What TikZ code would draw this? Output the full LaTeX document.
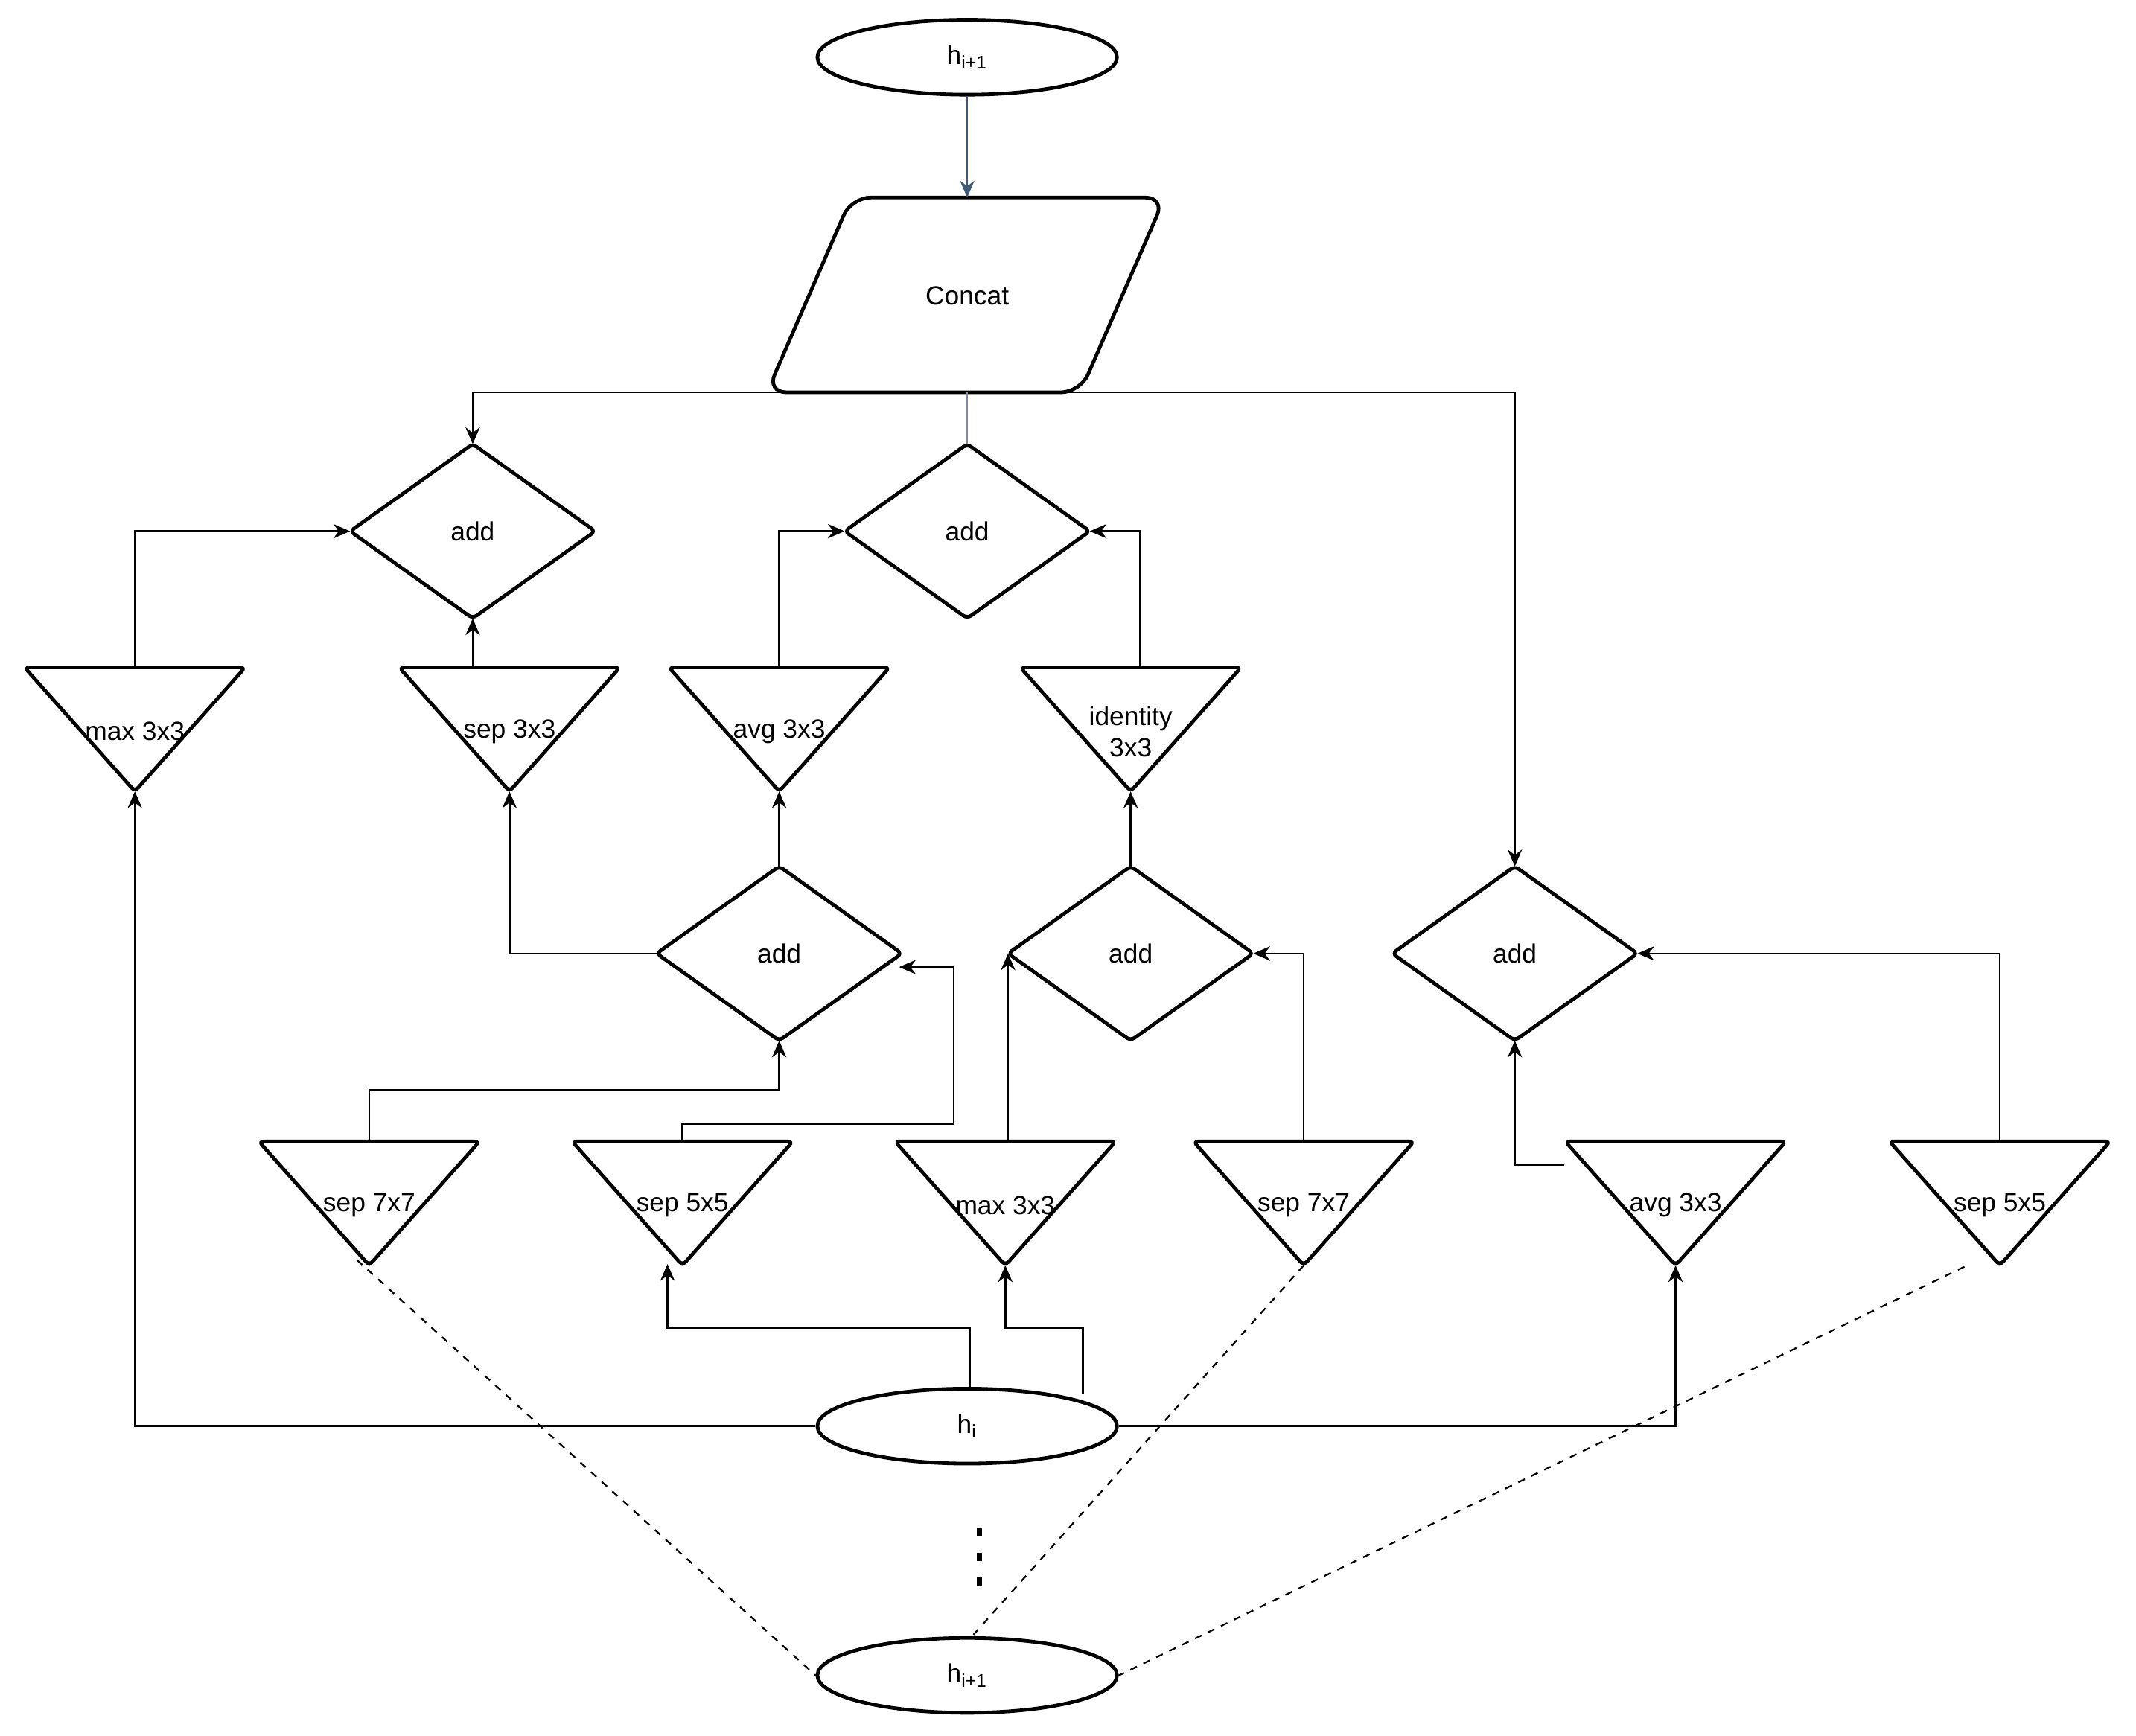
\documentclass[tikz,border=0pt]{standalone}
\usepackage{fontspec}
\setmainfont{Liberation Sans}
\usetikzlibrary{arrows.meta,shapes.geometric}
\definecolor{steel}{HTML}{3E5A78}
\begin{document}
\begin{tikzpicture}[x=0.02cm,y=-0.02cm,
  shp/.style={line width=1.5pt,rounded corners=2pt},
  con/.style={line width=0.8pt},
  arr/.style={con,-{Stealth[length=7pt,width=6pt]}},
  dsh/.style={line width=0.7pt,dashed},
  lbl/.style={font=\fontsize{11}{13}\selectfont,align=center},
  ell/.style={draw,ellipse,line width=1.5pt,minimum width=4.4cm,minimum height=1.1cm,inner sep=0pt,lbl}]
\useasboundingbox (0,0) rectangle (1568,1274);
\newcommand\dia[4]{%
  \draw[shp] ({#2-90},#3) -- (#2,{#3-64}) -- ({#2+90},#3) -- (#2,{#3+64}) -- cycle;
  \node[lbl] (#1) at (#2,#3) {#4};
  \coordinate (#1-t) at (#2,{#3-64}); \coordinate (#1-b) at (#2,{#3+64});
  \coordinate (#1-l) at ({#2-90},#3); \coordinate (#1-r) at ({#2+90},#3);}
\newcommand\tri[5]{% name x ytop text textyoffset
  \draw[shp] ({#2-81},#3) -- ({#2+81},#3) -- (#2,{#3+91}) -- cycle;
  \node[lbl] (#1) at (#2,{#3+#5}) {#4};
  \coordinate (#1-a) at (#2,{#3+91});}
% ellipses
\node[ell] (top) at (710,42) {h\textsubscript{i+1}};
\node[ell] (hi) at (710,1047) {h\textsubscript{i}};
\node[ell] (bot) at (710,1230) {h\textsubscript{i+1}};
% concat
\draw[shp,rounded corners=8pt] (625,145) -- (855,145) -- (793,288) -- (563,288) -- cycle;
\node[lbl] (concat) at (710,217) {Concat};
\coordinate (concat-t) at (710,145); \coordinate (concat-b) at (710,288);
% diamonds
\dia{a1}{347}{390}{add}
\dia{a2}{710}{390}{add}
\dia{a3}{572}{700}{add}
\dia{a4}{830}{700}{add}
\dia{a5}{1112}{700}{add}
% triangles
\tri{t1}{99}{490}{max 3x3}{47}
\tri{t2}{374}{490}{sep 3x3}{47}
\tri{t3}{572}{490}{avg 3x3}{47}
\tri{t4}{830}{490}{identity\\3x3}{47}
\tri{u1}{271}{838}{sep 7x7}{47}
\tri{u2}{501}{838}{sep 5x5}{47}
\tri{u3}{738}{838}{max 3x3}{47}
\tri{u4}{957}{838}{sep 7x7}{47}
\tri{u5}{1230}{838}{avg 3x3}{47}
\tri{u6}{1468}{838}{sep 5x5}{47}
% dots
\foreach \yy in {1122,1140,1158} \fill (717,\yy) rectangle (721,{\yy+6});
% connectors
\draw[arr,color=steel] (top) -- (concat-t);
\draw[con,color=steel!70] (concat-b) -- (a2-t);
\draw[arr] (600,288) -| (a1-t);
\draw[arr] (780,288) -| (a5-t);
\draw[arr] (99,490) |- (a1-l);
\draw[arr] (347,490) -- (a1-b);
\draw[arr] (572,490) |- (a2-l);
\draw[arr] (837,490) |- (a2-r);
\draw[arr] (a3-t) -- (t3-a);
\draw[arr] (a3-l) -| (t2-a);
\draw[arr] (a4-t) -- (t4-a);
\draw[arr] (271,838) |- (572,800) -- (a3-b);
\draw[arr] (501,838) |- (700,825) |- (660,710);
\draw[arr] (740,838) -- (740,700);
\draw[arr] (957,838) |- (a4-r);
\draw[arr] (1148,855) -| (a5-b);
\draw[arr] (1468,838) |- (a5-r);
\draw[arr] (hi.west) -| (t1-a);
\draw[arr] (hi.east) -| (u5-a);
\draw[arr] (712,1020) |- (490,975) -- (490,928);
\draw[arr] (795,1023) |- (738,975) -- (u3-a);
\draw[dsh] (262,925) -- (bot.west);
\draw[dsh] (u4-a) -- (712,1203);
\draw[dsh] (1442,930) -- (bot.east);
\end{tikzpicture}
\end{document}
